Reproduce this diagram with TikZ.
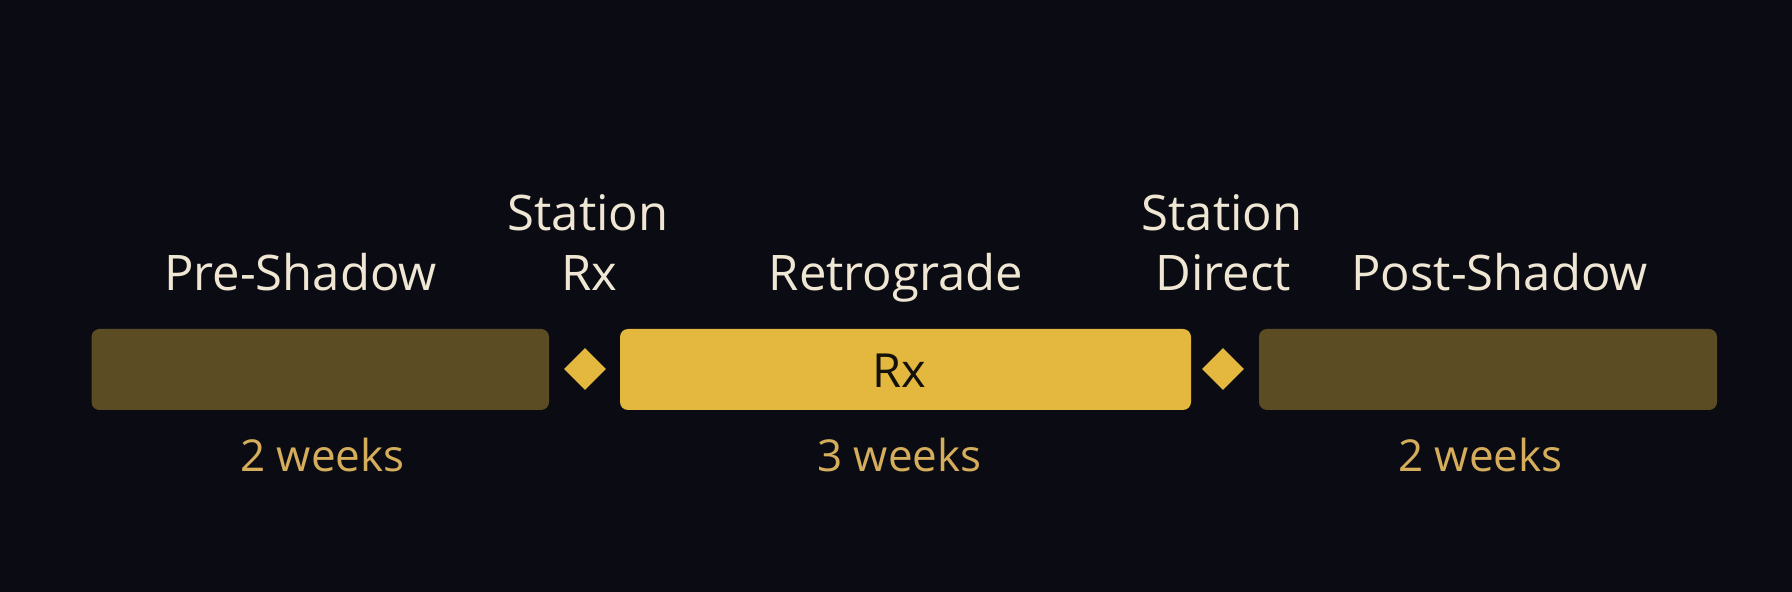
\documentclass[tikz,border=0pt]{standalone}
\usepackage{fontspec}
\setmainfont{Open Sans}
\usetikzlibrary{shapes.geometric}
\definecolor{bg}{HTML}{0B0C13}
\definecolor{dimgold}{HTML}{5C4C24}
\definecolor{gold}{HTML}{E4B83E}
\definecolor{cream}{HTML}{EFE6D3}
\definecolor{weekgold}{HTML}{D5AD5B}
\definecolor{ink}{HTML}{14110A}
\tikzset{
  phase/.style={rectangle, rounded corners=4pt, minimum height=40.5pt, inner sep=0pt, draw=none},
  dimbox/.style={phase, fill=dimgold},
  rxbox/.style={phase, fill=gold},
  marker/.style={diamond, aspect=1, fill=gold, minimum width=21pt, minimum height=21pt, inner sep=0pt},
  lbl/.style={anchor=base, inner sep=0pt, text=cream, font=\fontsize{24.5}{28}\selectfont},
  wk/.style={anchor=base, inner sep=0pt, text=weekgold, font=\fontsize{22}{26}\selectfont},
}
\begin{document}
\begin{tikzpicture}[x=0.5pt,y=-0.5pt]
\fill[bg] (0,0) rectangle (1792,592);
\useasboundingbox (0,0) rectangle (1792,592);
% phase boxes
\node[dimbox, minimum width=228.75pt] (pre) at (320.25,369.5) {};
\node[rxbox, minimum width=285.5pt] (retro) at (905.5,369.5) {};
\node[dimbox, minimum width=229pt] (post) at (1488,369.5) {};
% markers
\node[marker] (srx) at (585,369) {};
\node[marker] (sd) at (1223,369) {};
% box text
\node[anchor=base, inner sep=0pt, text=ink, font=\fontsize{23.5}{27}\selectfont] (rxt) at (899,388) {Rx};
% labels
\node[lbl] (lpre) at (300.5,291) {Pre-Shadow};
\node[lbl] (lsrx1) at (588,231) {Station};
\node[lbl] (lsrx2) at (589,291) {Rx};
\node[lbl] (lretro) at (896,291) {Retrograde};
\node[lbl] (lsd1) at (1222,231) {Station};
\node[lbl] (lsd2) at (1223,291) {Direct};
\node[lbl] (lpost) at (1499.5,291) {Post-Shadow};
% durations
\node[wk] (wpre) at (322.5,472) {2 weeks};
\node[wk] (wretro) at (899.5,472) {3 weeks};
\node[wk] (wpost) at (1480.5,472) {2 weeks};
\end{tikzpicture}
\end{document}
